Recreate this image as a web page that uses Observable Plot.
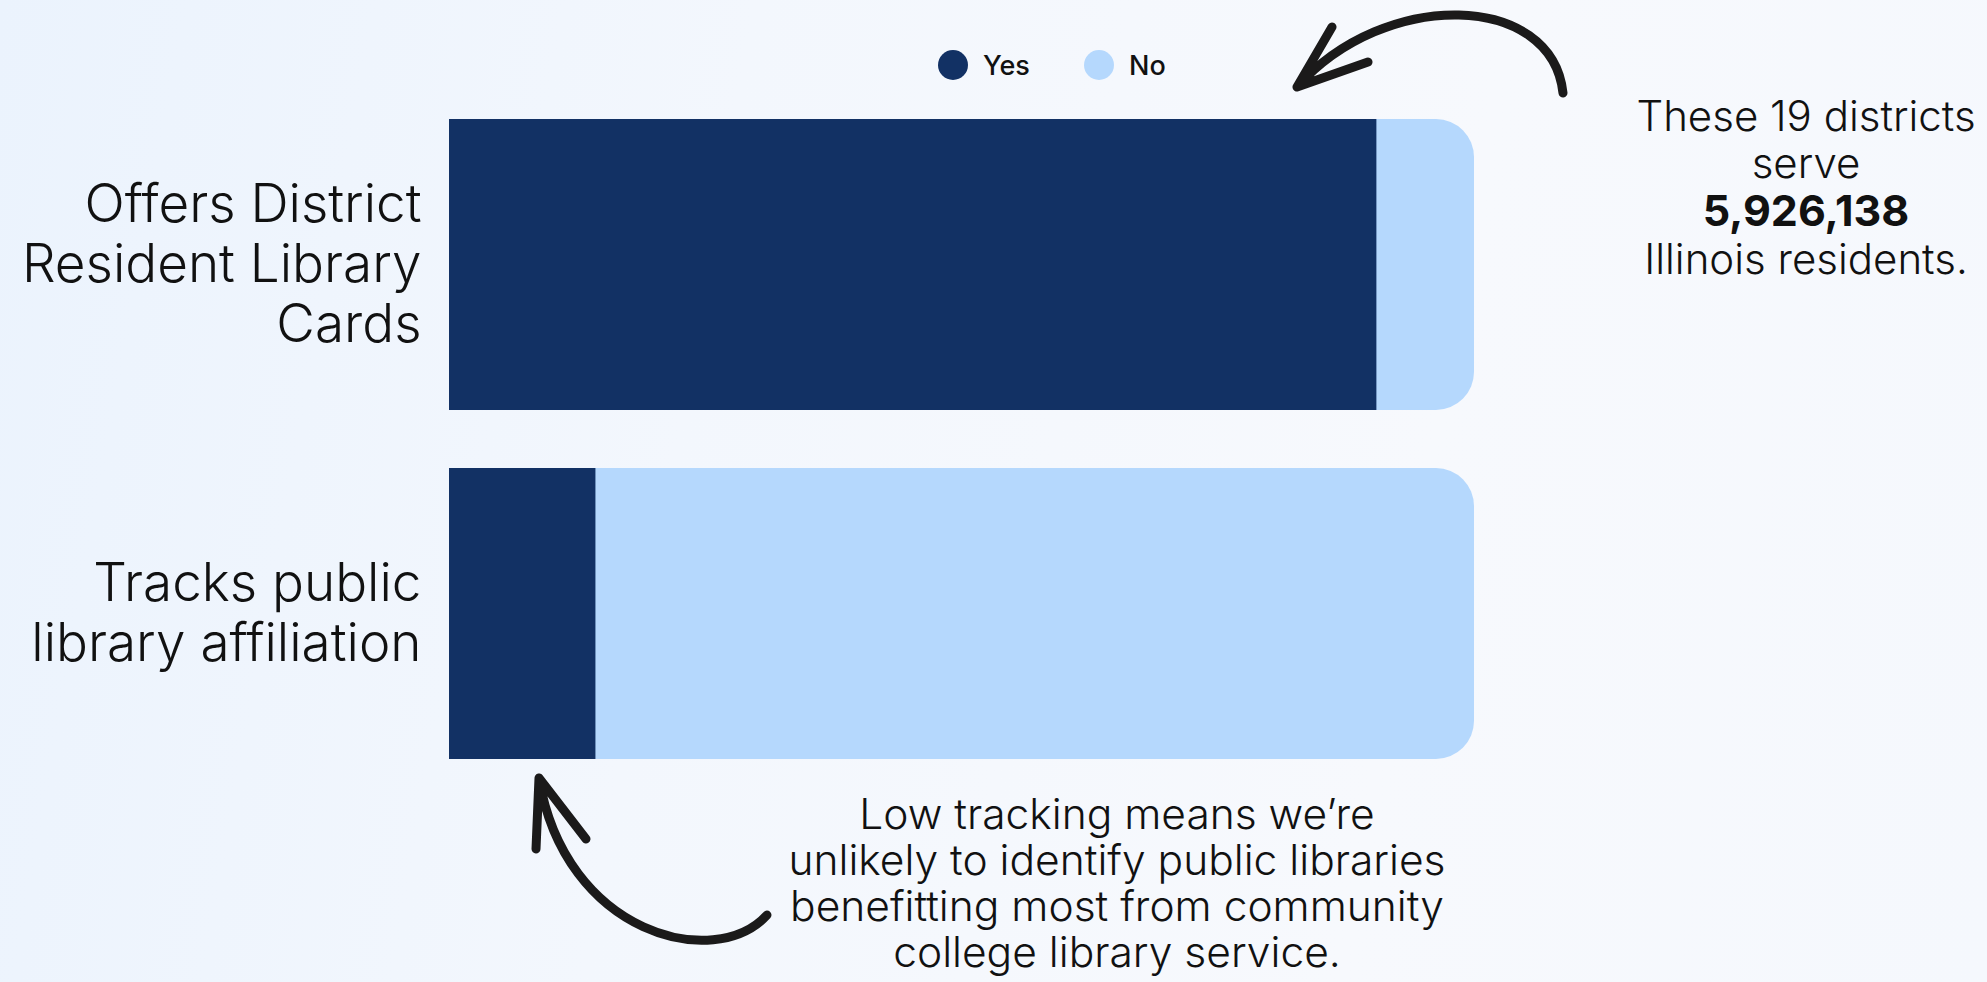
<!DOCTYPE html>
<html>
<head>
<meta charset="utf-8">
<script src="https://cdn.jsdelivr.net/npm/d3@7"></script>
<script src="https://cdn.jsdelivr.net/npm/@observablehq/plot@0.6"></script>
<style>
  html, body { margin: 0; padding: 0; }
  body {
    width: 1987px; height: 982px; overflow: hidden;
    background: linear-gradient(100deg, #ebf3fd 0%, #f3f7fd 35%, #f7f9fd 70%, #f5f8fd 100%);
    font-family: Inter, "Noto Sans", sans-serif;
    color: #111;
  }
  #wrap { position: relative; width: 1987px; height: 982px; }
  #legend { position: relative; height: 100px; }
  .lg { position: absolute; top: 50px; height: 30px; display: flex; align-items: center; font-size: 27px; font-weight: 500; color: #111; }
  .lg .sw { width: 30px; height: 30px; border-radius: 50%; margin-right: 15px; }
  #plot svg { display: block; }
  .note { position: absolute; text-align: center; font-size: 42px; font-weight: 300; color: #111; white-space: nowrap; }
  #arrows { position: absolute; left: 0; top: 0; pointer-events: none; }
</style>
</head>
<body>
<div id="wrap">
  <div id="legend"></div>
  <div id="plot"></div>
  <div class="note" id="noteRight" style="left:1606px; width:400px; top:92px; line-height:47px;"></div>
  <div class="note" id="noteBottom" style="left:717px; width:800px; top:791px; line-height:46px; font-size:42.5px;"></div>
  <svg id="arrows" width="1987" height="982"></svg>
</div>
<script>
// ---- data ----
const categories = ["Offers District Resident Library Cards", "Tracks public library affiliation"];
const tickLabels = ["Offers District\nResident Library\nCards", "Tracks public\nlibrary affiliation"];
const yesCounts = [19, 3];
const noCounts = [2, 18];
const seriesNames = ["Yes", "No"];
const seriesColors = ["#123164", "#b5d8fd"];
const noteRightLines = ["These 19 districts", "serve", "5,926,138", "Illinois residents."];
const noteBottomLines = ["Low tracking means we\u2019re", "unlikely to identify public libraries", "benefitting most from community", "college library service."];

// ---- legend ----
const legend = document.getElementById("legend");
const legendX = [938, 1084];
seriesNames.forEach((s, i) => {
  const d = document.createElement("div");
  d.className = "lg";
  d.style.left = legendX[i] + "px";
  d.innerHTML = `<div class="sw" style="background:${seriesColors[i]}"></div><span>${s}</span>`;
  legend.appendChild(d);
});

// ---- chart ----
const rows = categories.map((c, i) => ({category: c, yes: yesCounts[i], no: noCounts[i], total: yesCounts[i] + noCounts[i]}));
const labelOf = new Map(categories.map((c, i) => [c, tickLabels[i]]));
const total = d3.max(rows, d => d.total);

const chart = Plot.plot({
  width: 1987,
  height: 882,
  marginLeft: 449,
  marginRight: 513,
  marginTop: 18,
  marginBottom: 222,
  style: {background: "transparent", fontFamily: "Inter, 'Noto Sans', sans-serif", color: "#111"},
  x: {domain: [0, total], axis: null},
  y: {domain: categories, paddingInner: 0.165, paddingOuter: 0, axis: null, label: null},
  color: {domain: seriesNames, range: seriesColors},
  marks: [
    Plot.barX(rows, {y: "category", x1: 0, x2: "total", fill: () => "No", rx: 38}),
    Plot.barX(rows, {y: "category", x1: 0, x2: "yes", fill: () => "Yes"}),
    Plot.axisY({label: null, tickSize: 0, tickPadding: 28, fontSize: 53, lineHeight: 1.13, tickFormat: d => labelOf.get(d), fill: "#111", fontWeight: 300, dy: -2})
  ]
});
document.getElementById("plot").appendChild(chart);

// ---- notes ----
document.getElementById("noteRight").innerHTML = noteRightLines.map((t, i) => i === 2 ? `<div style="font-weight:700; font-size:43px; line-height:49px">${t}</div>` : `<div>${t}</div>`).join("");
document.getElementById("noteBottom").innerHTML = noteBottomLines.map(t => `<div>${t}</div>`).join("");

// ---- hand-drawn arrows ----
const arrows = d3.select("#arrows");
const arrowStyle = g => g.attr("fill", "none").attr("stroke", "#1b1a1a").attr("stroke-width", 9).attr("stroke-linecap", "round").attr("stroke-linejoin", "round");
arrows.append("path").attr("d", "M1563,93 C1552,-8 1385,-12 1297,87 M1297,87 L1332,27 M1297,87 L1368,62").call(arrowStyle);
arrows.append("path").attr("d", "M767,915 C715,972 565,935 539,778 M539,778 L536,849 M539,778 L586,839").call(arrowStyle);
</script>
</body>
</html>
